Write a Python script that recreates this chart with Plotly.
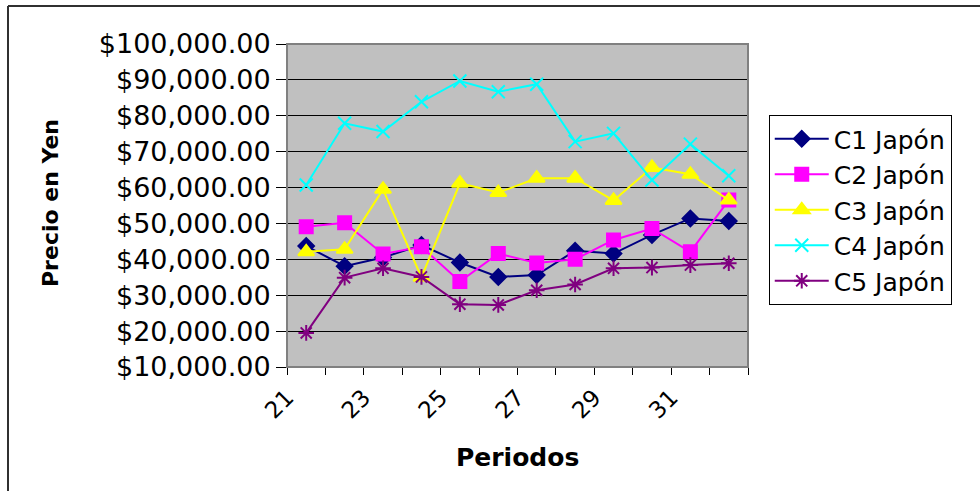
import plotly.graph_objects as go

periods = [21, 22, 23, 24, 25, 26, 27, 28, 29, 30, 31, 32]
c1 = [43700, 38100, 40500, 44000, 39100, 35100, 35600, 42400, 41600, 46800, 51400, 50700]
c2 = [49100, 50200, 41500, 43500, 33800, 41600, 39000, 40000, 45400, 48600, 42100, 56500]
c3 = [42100, 42800, 59500, 35000, 61200, 58600, 62600, 62600, 56400, 65600, 63700, 56500]
c4 = [60700, 77900, 75600, 83900, 89700, 86700, 88800, 72800, 75100, 62100, 72100, 63300]
c5 = [19500, 34900, 37500, 35100, 27500, 27300, 31400, 33000, 37500, 37700, 38400, 38900]

names = ["C1 Japón", "C2 Japón", "C3 Japón", "C4 Japón", "C5 Japón"]
colors = ["#000080", "#FF00FF", "#FFFF00", "#00FFFF", "#800080"]
symbols = ["diamond", "square", "triangle-up", "x-thin-open", "asterisk-open"]
sizes = [12, 13, 14, 13, 13]
series = [c1, c2, c3, c4, c5]

tick_pos = [p - 0.5 for p in periods] + [periods[-1] + 0.5]
tick_txt = [str(p) if (p - periods[0]) % 2 == 0 else "" for p in periods] + [""]

FONT = "DejaVu Sans"

fig = go.Figure()
for name, col, sym, sz, ys in zip(names, colors, symbols, sizes, series):
    fig.add_trace(go.Scatter(
        x=periods, y=ys, name=name, mode="lines+markers",
        line=dict(color=col, width=2),
        marker=dict(symbol=sym, size=sz, color=col, line=dict(color=col, width=2)),
    ))

fig.update_layout(
    width=980, height=491,
    margin=dict(l=287, r=232, t=44, b=124),
    paper_bgcolor="white",
    plot_bgcolor="#C0C0C0",
    font=dict(family=FONT, color="black", size=25),
    showlegend=True,
    legend=dict(
        x=1.045, y=0.78, xanchor="left", yanchor="top",
        bgcolor="white", bordercolor="black", borderwidth=1,
        font=dict(family=FONT, size=25, color="black"),
        tracegroupgap=0, itemwidth=54, entrywidth=230, entrywidthmode="pixels",
    ),
    xaxis=dict(
        range=[20.5, 32.5], tickmode="array", tickvals=tick_pos, ticktext=tick_txt,
        tickangle=-45, ticks="outside", ticklen=7, tickcolor="black", tickwidth=1,
        showgrid=False, zeroline=False, showline=True, linecolor="#606060", linewidth=1,
        tickfont=dict(family=FONT, size=23, color="black"),
    ),
    yaxis=dict(
        range=[10000, 100000], dtick=10000, tick0=10000,
        tickprefix="$", tickformat=",.2f",
        ticks="outside", ticklen=10, tickcolor="black", tickwidth=1,
        showgrid=True, gridcolor="black", gridwidth=1,
        zeroline=False, showline=True, linecolor="black", linewidth=1,
        tickfont=dict(family=FONT, size=27, color="black"),
    ),
    shapes=[
        dict(type="rect", xref="paper", yref="paper", x0=0, x1=1, y0=0, y1=1,
             line=dict(color="#808080", width=2), fillcolor="rgba(0,0,0,0)", layer="above"),
        dict(type="line", xref="paper", yref="paper",
             x0=(8 - 287) / 461, x1=(8 - 287) / 461, y0=(367 - 6) / 323, y1=(367 - 491) / 323,
             line=dict(color="#303030", width=2)),
        dict(type="line", xref="paper", yref="paper",
             x0=(8 - 287) / 461, x1=(980 - 287) / 461, y0=(367 - 6) / 323, y1=(367 - 6) / 323,
             line=dict(color="#303030", width=2)),
    ],
    annotations=[
        dict(text="<b>Precio en Yen</b>", xref="paper", yref="paper",
             x=(50 - 287) / 461, y=(367 - 203) / 323, xanchor="center", yanchor="middle",
             textangle=-90, showarrow=False, font=dict(family=FONT, size=22, color="black")),
        dict(text="<b>Periodos</b>", xref="paper", yref="paper",
             x=(517 - 287) / 461, y=(367 - 457) / 323, xanchor="center", yanchor="middle",
             showarrow=False, font=dict(family=FONT, size=25, color="black")),
    ],
)

fig.write_html("out.html")
